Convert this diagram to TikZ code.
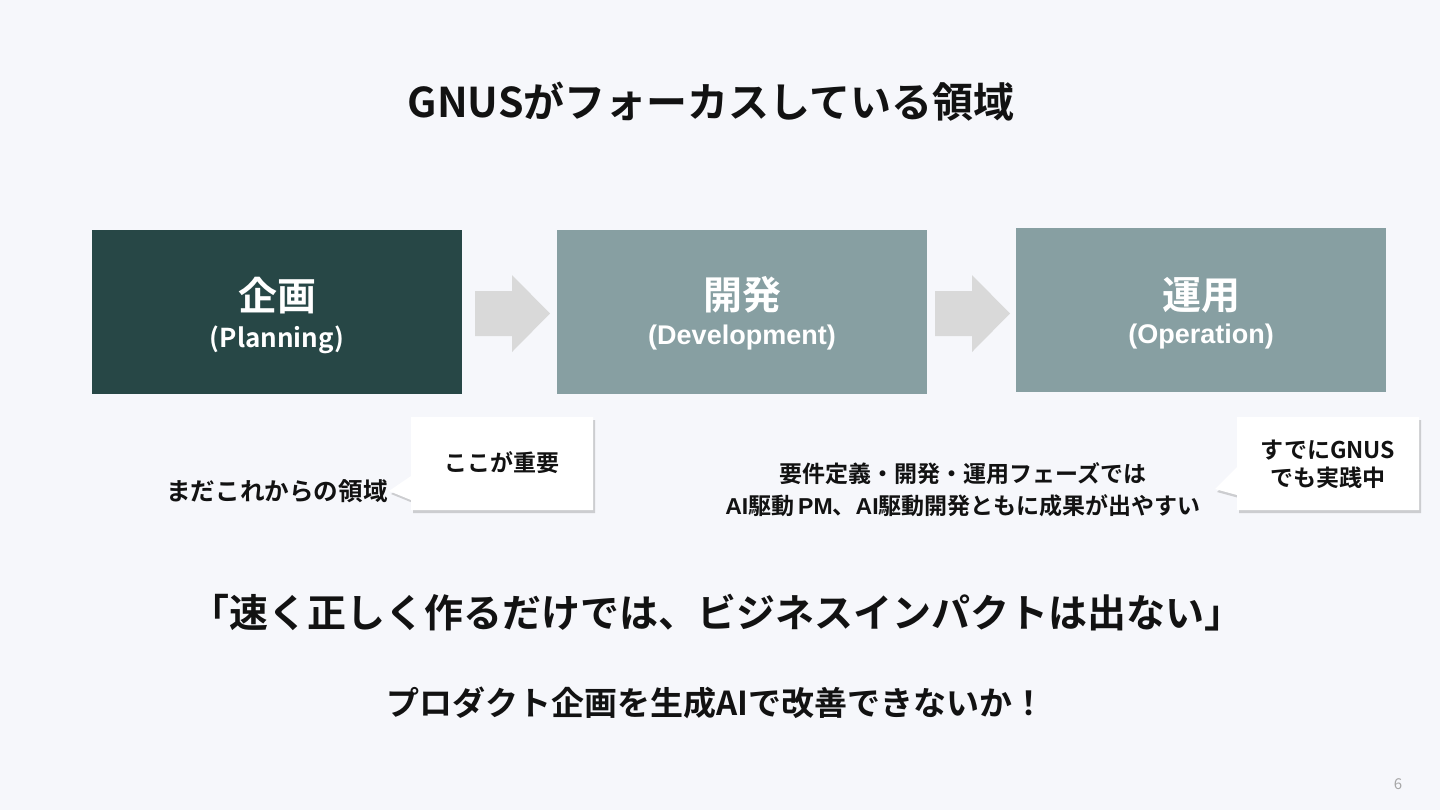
\documentclass[tikz,border=0pt]{standalone}
\usepackage{fontspec}
\usetikzlibrary{shadows}
\setmainfont{Noto Sans CJK JP}[BoldFont={Noto Sans CJK JP Bold}]
\newfontfamily\lat{Liberation Sans}
\definecolor{bgc}{HTML}{F6F7FB}
\definecolor{darkteal}{HTML}{274746}
\definecolor{grayteal}{HTML}{879FA2}
\definecolor{arrowc}{HTML}{D9D9D9}
\definecolor{txt}{HTML}{121212}
\begin{document}
\begin{tikzpicture}[x=0.5pt,y=-0.5pt,
  phase/.style={rectangle, minimum width=185pt, minimum height=82pt, inner sep=0pt},
  phasetitle/.style={text=white, inner sep=0pt, font=\bfseries\fontsize{19.5}{24}\selectfont},
  phasesub/.style={text=white, inner sep=0pt, font=\bfseries\fontsize{13}{16}\selectfont},
  blockarrow/.style={fill=arrowc, draw=none},
  callout/.style={fill=white, draw=none, drop shadow={opacity=0.35, shadow xshift=1pt, shadow yshift=-1.5pt}},
  label/.style={text=txt, font=\bfseries, align=center, inner sep=0pt}
]
\fill[bgc] (0,0) rectangle (1440,810);
\useasboundingbox (0,0) rectangle (1440,810);

% title
\node[label, font=\bfseries\fontsize{20.5}{24}\selectfont] (title) at (711,102) {GNUSがフォーカスしている領域};

% phases
\node[phase, fill=darkteal] (plan) at (277,312) {};
\node[phase, fill=grayteal] (dev) at (742,311.5) {};
\node[phase, fill=grayteal] (ops) at (1201,310) {};

\node[phasetitle] (planT) at ([yshift=8pt]plan.center) {企画};
\node[phasesub] (planS) at ([yshift=-14pt]plan.center) {(Planning)};
\node[phasetitle] (devT) at ([yshift=8.5pt]dev.center) {開発};
\node[phasesub, font=\lat\bfseries\fontsize{13.5}{16}\selectfont] (devS) at ([yshift=-13pt]dev.center) {(Development)};
\node[phasetitle] (opsT) at ([yshift=7.5pt]ops.center) {運用};
\node[phasesub, font=\lat\bfseries\fontsize{13.5}{16}\selectfont] (opsS) at ([yshift=-13.5pt]ops.center) {(Operation)};

% block arrows
\fill[blockarrow] (475,291) -- (512,291) -- (512,275) -- (550,313.5) -- (512,352) -- (512,336) -- (475,336) -- cycle;
\fill[blockarrow] (935,291) -- (972,291) -- (972,275) -- (1010,313.5) -- (972,352) -- (972,336) -- (935,336) -- cycle;

% callouts
\fill[callout] (411,417) -- (593,417) -- (593,510) -- (411,510) -- (411,500) -- (389,491) -- (411,476) -- cycle;
\node[label, font=\bfseries\fontsize{11.5}{14}\selectfont] (important) at (502,463) {ここが重要};

\fill[callout] (1237,417) -- (1419,417) -- (1419,510) -- (1237,510) -- (1237,495) -- (1215,489) -- (1237,467) -- cycle;
\node[label, font=\bfseries\fontsize{11.5}{14}\selectfont] (already) at (1328,464) {すでにGNUS\\でも実践中};

% side texts
\node[label, font=\bfseries\fontsize{12.3}{14}\selectfont] (future) at (277,491) {まだこれからの領域};
\node[label, font=\bfseries\fontsize{11.5}{16}\selectfont] (phases) at (963,490) {要件定義・開発・運用フェーズでは\\{\lat AI}駆動\,{\lat PM}、{\lat AI}駆動開発ともに成果が出やすい};

% quote
\node[label, font=\bfseries\fontsize{19.5}{24}\selectfont] (quote) at (717,613) {「速く正しく作るだけでは、ビジネスインパクトは出ない」};
\node[label, font=\bfseries\fontsize{16.5}{20}\selectfont] (question) at (716,703) {プロダクト企画を生成AIで改善できないか！};

% page number
\node[text=gray!70, font=\fontsize{7.5}{9}\selectfont, inner sep=0pt] (page) at (1398,784) {6};
\end{tikzpicture}
\end{document}
